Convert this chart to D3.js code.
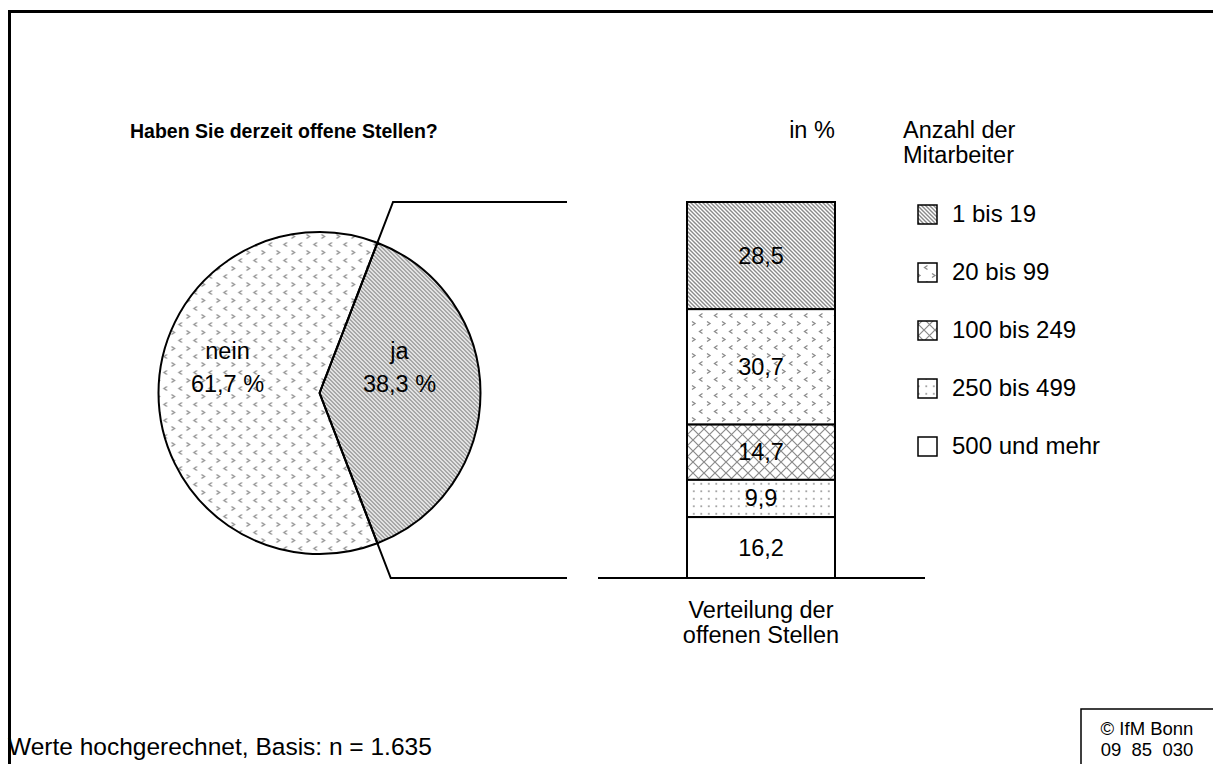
<!DOCTYPE html>
<html>
<head>
<meta charset="utf-8">
<script src="https://cdn.jsdelivr.net/npm/d3@7"></script>
<style>
  body { margin: 0; background: #fff; }
  svg text { font-family: Arial, "Liberation Sans", sans-serif; fill: #000; }
</style>
</head>
<body>
<svg id="chart" width="1213" height="764"></svg>
<script>
// pie: Haben Sie derzeit offene Stellen?
const pieLabels = ["ja", "nein"];
const pieValues = [38.3, 61.7];
// bar: Verteilung der offenen Stellen nach Anzahl der Mitarbeiter
const groups = ["1 bis 19", "20 bis 99", "100 bis 249", "250 bis 499", "500 und mehr"];
const shares = [28.5, 30.7, 14.7, 9.9, 16.2];
const shareLabels = ["28,5", "30,7", "14,7", "9,9", "16,2"];
const pieTexts = ["38,3 %", "61,7 %"];

const svg = d3.select("#chart");
const defs = svg.append("defs");
const fs = 23.5;

// fill patterns
const pDiag = defs.append("pattern").attr("id", "p0").attr("patternUnits", "userSpaceOnUse")
  .attr("width", 4).attr("height", 4);
pDiag.append("rect").attr("width", 4).attr("height", 4).attr("fill", "#fff");
pDiag.append("path").attr("d", "M-1,-1 L5,5 M-1,3 L1,5 M3,-1 L5,1")
  .attr("stroke", "#8a8a8a").attr("stroke-width", 1.4);

const pChev = defs.append("pattern").attr("id", "p1").attr("patternUnits", "userSpaceOnUse")
  .attr("width", 15).attr("height", 16);
pChev.append("rect").attr("width", 15).attr("height", 16).attr("fill", "#fff");
pChev.append("path").attr("d", "M2,1.5 L5,3.5 L2,5.5 M12.5,9.5 L9.5,11.5 L12.5,13.5")
  .attr("fill", "none").attr("stroke", "#8a8a8a").attr("stroke-width", 1.3);

const pCross = defs.append("pattern").attr("id", "p2").attr("patternUnits", "userSpaceOnUse")
  .attr("width", 11).attr("height", 11);
pCross.append("rect").attr("width", 11).attr("height", 11).attr("fill", "#fff");
pCross.append("path").attr("d", "M0,0 L11,11 M11,0 L0,11")
  .attr("stroke", "#8a8a8a").attr("stroke-width", 1.2);

const pDots = defs.append("pattern").attr("id", "p3").attr("patternUnits", "userSpaceOnUse")
  .attr("width", 7.5).attr("height", 7.5);
pDots.append("rect").attr("width", 7.5).attr("height", 7.5).attr("fill", "#fff");
pDots.append("rect").attr("x", 3).attr("y", 3).attr("width", 1.6).attr("height", 1.6).attr("fill", "#8a8a8a");

const fills = ["url(#p0)", "url(#p1)", "url(#p2)", "url(#p3)", "#fff"];
const pieFills = ["url(#p0)", "url(#p1)"];

// outer frame
svg.append("path").attr("d", "M9.5,770 L9.5,11.5 L1220,11.5")
  .attr("fill", "none").attr("stroke", "#000").attr("stroke-width", 3);

// title
svg.append("text").attr("x", 130).attr("y", 138).attr("font-size", 19.5).attr("font-weight", "bold")
  .text("Haben Sie derzeit offene Stellen?");

// pie
const cx = 319.5, cy = 393, r = 161;
const share = pieValues[0] / 100 * 2 * Math.PI;
const start = Math.PI / 2 - share / 2;
const pie = d3.pie().sort(null).value(d => d).startAngle(start).endAngle(start + 2 * Math.PI);
const arcs = pie(pieValues);
const arc = d3.arc().innerRadius(0).outerRadius(r);
const pg = svg.append("g").attr("transform", `translate(${cx},${cy})`);
pg.selectAll("path").data(arcs).join("path")
  .attr("d", arc)
  .attr("fill", (d, i) => pieFills[i])
  .attr("stroke", "#000").attr("stroke-width", 2).attr("stroke-linejoin", "round");

const pieLabelPos = [[80, -34], [-92, -34]];
arcs.forEach((d, i) => {
  const t = pg.append("text").attr("text-anchor", "middle").attr("font-size", fs);
  t.append("tspan").attr("x", pieLabelPos[i][0]).attr("y", pieLabelPos[i][1]).text(pieLabels[i]);
  t.append("tspan").attr("x", pieLabelPos[i][0]).attr("y", pieLabelPos[i][1] + 33).text(pieTexts[i]);
});

// bar
const barTop = 202, barBottom = 578, barX0 = 687, barX1 = 835;
const y = d3.scaleLinear().domain([0, 100]).range([barBottom, barTop]);
let cum = 100;
const segs = shares.map((v, i) => {
  const s = { i, top: cum, bottom: cum - v, v };
  cum -= v;
  return s;
});
const bg = svg.append("g");
bg.selectAll("rect").data(segs).join("rect")
  .attr("x", barX0).attr("width", barX1 - barX0)
  .attr("y", d => y(d.top)).attr("height", d => y(d.bottom) - y(d.top))
  .attr("fill", d => fills[d.i])
  .attr("stroke", "#000").attr("stroke-width", 2);
bg.selectAll("text").data(segs).join("text")
  .attr("x", (barX0 + barX1) / 2).attr("y", d => (y(d.top) + y(d.bottom)) / 2 + 8)
  .attr("text-anchor", "middle").attr("font-size", fs)
  .text(d => shareLabels[d.i]);

// baseline
svg.append("line").attr("x1", 598).attr("x2", 925).attr("y1", barBottom).attr("y2", barBottom)
  .attr("stroke", "#000").attr("stroke-width", 2);

// connector lines from pie slice edges
const a0 = arcs[0].startAngle, a1 = arcs[0].endAngle;
const topX = cx + (cy - barTop) / Math.cos(a0) * Math.sin(a0);
const botX = cx + (barBottom - cy) / (-Math.cos(a1)) * Math.sin(a1);
svg.append("path")
  .attr("d", `M${cx},${cy} L${topX},${barTop} L567,${barTop}`)
  .attr("fill", "none").attr("stroke", "#000").attr("stroke-width", 2);
svg.append("path")
  .attr("d", `M${cx},${cy} L${botX},${barBottom} L567,${barBottom}`)
  .attr("fill", "none").attr("stroke", "#000").attr("stroke-width", 2);

// bar caption
svg.append("text").attr("x", 761).attr("y", 618).attr("text-anchor", "middle").attr("font-size", fs)
  .text("Verteilung der");
svg.append("text").attr("x", 761).attr("y", 643).attr("text-anchor", "middle").attr("font-size", fs)
  .text("offenen Stellen");
svg.append("text").attr("x", 812).attr("y", 138).attr("text-anchor", "middle").attr("font-size", fs)
  .text("in %");

// legend
svg.append("text").attr("x", 903).attr("y", 138).attr("font-size", fs).text("Anzahl der");
svg.append("text").attr("x", 903).attr("y", 163).attr("font-size", fs).text("Mitarbeiter");
const ly = d3.scalePoint().domain(groups).range([214, 446]);
const lg = svg.append("g");
lg.selectAll("rect").data(groups).join("rect")
  .attr("x", 918).attr("y", d => ly(d) - 9).attr("width", 19).attr("height", 19)
  .attr("fill", (d, i) => fills[i]).attr("stroke", "#000").attr("stroke-width", 1.5);
lg.selectAll("text").data(groups).join("text")
  .attr("x", 952).attr("y", d => ly(d) + 8).attr("font-size", 24)
  .text(d => d);

// footer
svg.append("text").attr("x", 8).attr("y", 755).attr("font-size", 24.5)
  .text("Werte hochgerechnet, Basis: n = 1.635");
svg.append("rect").attr("x", 1081).attr("y", 709).attr("width", 160).attr("height", 80)
  .attr("fill", "#fff").attr("stroke", "#000").attr("stroke-width", 1.5);
svg.append("text").attr("x", 1147).attr("y", 735).attr("text-anchor", "middle").attr("font-size", 18.5)
  .text("© IfM Bonn");
svg.append("text").attr("x", 1147).attr("y", 756).attr("text-anchor", "middle").attr("font-size", 18.5)
  .attr("xml:space", "preserve").style("white-space", "pre")
  .text("09  85  030");
</script>
</body>
</html>
